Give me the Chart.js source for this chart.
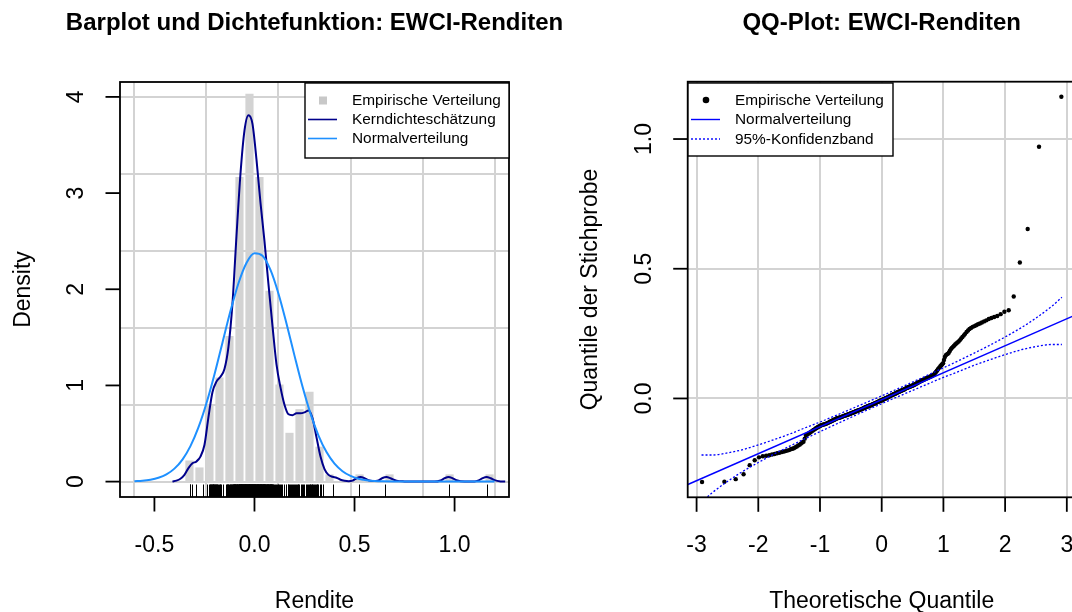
<!DOCTYPE html>
<html><head><meta charset="utf-8">
<script src="https://cdn.jsdelivr.net/npm/chart.js@4.4.1/dist/chart.umd.min.js"></script>
<style>
html,body{margin:0;padding:0;background:#fff;}
#wrap{position:relative;width:1072px;height:612px;overflow:hidden;background:#fff;}
canvas{position:absolute;left:0;top:0;}
</style>
</head><body>
<div id="wrap"><canvas id="c1" width="1072" height="612"></canvas><canvas id="c2" width="1072" height="612"></canvas></div>
<script>
// ---------- data ----------
// sorted EWCI returns (sample), n = 278
const sampleReturns = [
-0.322,-0.321,-0.311,-0.292,-0.257,-0.238,-0.227,-0.223,-0.221,-0.219,
-0.216,-0.214,-0.211,-0.209,-0.207,-0.205,-0.203,-0.201,-0.199,-0.196,
-0.194,-0.192,-0.188,-0.185,-0.181,-0.178,-0.174,-0.170,-0.167,-0.155,
-0.143,-0.139,-0.136,-0.133,-0.130,-0.127,-0.124,-0.121,-0.119,-0.116,
-0.114,-0.111,-0.109,-0.107,-0.105,-0.103,-0.102,-0.101,-0.100,-0.099,
-0.098,-0.097,-0.095,-0.094,-0.092,-0.091,-0.089,-0.088,-0.086,-0.085,
-0.083,-0.082,-0.080,-0.079,-0.077,-0.076,-0.075,-0.075,-0.074,-0.073,
-0.072,-0.071,-0.070,-0.069,-0.068,-0.067,-0.066,-0.065,-0.065,-0.064,
-0.063,-0.062,-0.061,-0.060,-0.059,-0.058,-0.057,-0.056,-0.055,-0.054,
-0.053,-0.052,-0.051,-0.050,-0.049,-0.048,-0.047,-0.046,-0.046,-0.045,
-0.044,-0.043,-0.042,-0.041,-0.040,-0.039,-0.038,-0.037,-0.036,-0.035,
-0.034,-0.033,-0.032,-0.031,-0.030,-0.029,-0.028,-0.027,-0.027,-0.026,
-0.025,-0.024,-0.023,-0.022,-0.021,-0.020,-0.019,-0.018,-0.017,-0.016,
-0.015,-0.014,-0.013,-0.012,-0.011,-0.010,-0.009,-0.008,-0.008,-0.007,
-0.005,-0.004,-0.003,-0.002,-0.001,0.000,0.001,0.002,0.003,0.004,
0.005,0.006,0.008,0.009,0.010,0.011,0.012,0.013,0.014,0.015,
0.016,0.017,0.018,0.019,0.020,0.021,0.023,0.024,0.025,0.026,
0.027,0.028,0.029,0.030,0.031,0.032,0.033,0.034,0.035,0.036,
0.038,0.039,0.040,0.041,0.042,0.043,0.044,0.045,0.046,0.047,
0.048,0.049,0.050,0.051,0.053,0.054,0.055,0.057,0.058,0.059,
0.061,0.062,0.064,0.065,0.066,0.068,0.069,0.070,0.072,0.073,
0.074,0.076,0.077,0.078,0.080,0.081,0.082,0.084,0.085,0.086,
0.088,0.089,0.091,0.095,0.099,0.103,0.107,0.112,0.116,0.120,
0.124,0.128,0.132,0.136,0.148,0.160,0.167,0.170,0.172,0.176,
0.183,0.190,0.195,0.199,0.203,0.208,0.212,0.216,0.220,0.225,
0.231,0.237,0.243,0.249,0.256,0.262,0.268,0.272,0.276,0.279,
0.282,0.286,0.289,0.293,0.297,0.301,0.306,0.310,0.314,0.318,
0.325,0.334,0.340,0.393,0.524,0.653,0.970,1.163
];

// histogram (bin width 0.05), density scale
const binCenters = [-0.325,-0.275,-0.225,-0.175,-0.125,-0.075,-0.025,0.025,0.075,0.125,0.175,0.225,0.275,0.325,0.375,0.525,0.675,0.975,1.175];
const binDensity = [0.216,0.144,0.791,1.079,1.511,3.165,4.029,3.165,1.980,1.007,0.504,0.750,0.930,0.360,0.072,0.072,0.072,0.072,0.072];

// kernel density estimate
const kdeX = [-0.41,-0.39,-0.37,-0.35,-0.33,-0.31,-0.29,-0.27,-0.25,-0.23,-0.21,-0.19,-0.17,-0.15,-0.13,-0.11,-0.09,-0.07,-0.05,-0.03,-0.01,
0.01,0.03,0.05,0.07,0.09,0.11,0.13,0.15,0.17,0.19,0.21,0.23,0.25,0.27,0.29,0.31,0.33,0.35,0.37,0.39,0.41,0.43,0.45,0.47,0.49,0.51,0.53,0.55,0.57,0.59,
0.62,0.64,0.66,0.68,0.71,0.75,0.80,0.90,0.93,0.95,0.97,0.99,1.01,1.05,1.10,1.12,1.14,1.16,1.18,1.20,1.23,1.253];
const kdeY = [0.00,0.01,0.03,0.07,0.14,0.19,0.21,0.26,0.38,0.67,0.93,1.04,1.09,1.17,1.40,1.85,2.55,3.20,3.65,3.81,3.72,
3.35,2.90,2.50,2.05,1.62,1.22,0.98,0.80,0.70,0.69,0.71,0.71,0.72,0.74,0.66,0.46,0.26,0.13,0.07,0.05,0.04,0.02,0.01,0.005,0.01,0.035,0.047,0.035,0.014,0.006,
0.012,0.038,0.047,0.035,0.010,0.002,0.000,0.000,0.012,0.035,0.048,0.035,0.014,0.001,0.002,0.013,0.036,0.048,0.035,0.015,0.002,0.000];

// fitted normal density
const normX = [-0.60,-0.56,-0.52,-0.48,-0.44,-0.40,-0.36,-0.32,-0.28,-0.24,-0.20,-0.16,-0.12,-0.08,-0.04,0.00,0.04,0.08,0.12,0.16,0.20,0.24,0.28,0.32,0.36,0.40,0.44,0.48,0.52,0.56,0.60,0.64,0.70,0.80,1.00,1.20];
const normY = [0.004,0.009,0.020,0.040,0.075,0.135,0.229,0.369,0.563,0.814,1.113,1.444,1.773,2.063,2.274,2.374,2.349,2.201,1.954,1.644,1.310,0.988,0.707,0.479,0.307,0.187,0.108,0.059,0.030,0.015,0.007,0.003,0.001,0.000,0.000,0.000];

// QQ reference line and 95% band
const qqLineX = [-3.2, 3.2];
const qqLineY = [-0.338, 0.328];
const bandX = [-2.92,-2.75,-2.5,-2.25,-2.0,-1.75,-1.5,-1.25,-1.0,-0.5,0,0.5,1.0,1.25,1.5,1.75,2.0,2.25,2.5,2.75,2.92];
const bandUpper = [-0.218,-0.218,-0.210,-0.197,-0.179,-0.159,-0.138,-0.114,-0.091,-0.041,0.010,0.063,0.118,0.146,0.175,0.205,0.237,0.271,0.310,0.354,0.390];
const bandLower = [-0.400,-0.364,-0.320,-0.281,-0.247,-0.215,-0.185,-0.156,-0.128,-0.073,-0.020,0.031,0.081,0.104,0.128,0.149,0.169,0.187,0.200,0.208,0.208];

// ticks and grid
const leftXTicks = [-0.5, 0, 0.5, 1.0];
const leftXTickLabels = ['-0.5','0.0','0.5','1.0'];
const leftYTicks = [0,1,2,3,4];
const leftYTickLabels = ['0','1','2','3','4'];
const leftGridX = [-0.6,-0.24,0.12,0.48,0.84,1.2];
const leftGridY = [0,0.8,1.6,2.4,3.2,4.0];
const rightXTicks = [-3,-2,-1,0,1,2,3];
const rightXTickLabels = ['-3','-2','-1','0','1','2','3'];
const rightYTicks = [0,0.5,1.0];
const rightYTickLabels = ['0.0','0.5','1.0'];
const rightGridX = [-3,-2,-1,0,1,2,3];
const rightGridY = [0,0.5,1.0];

// ---------- helpers ----------
const FONT = '"Liberation Sans", Arial, Helvetica, sans-serif';
function xy(xs, ys){ return xs.map((x,i)=>({x:x, y:ys[i]})); }
function qnorm(p){
  const a=[-3.969683028665376e+01,2.209460984245205e+02,-2.759285104469687e+02,1.383577518672690e+02,-3.066479806614716e+01,2.506628277459239e+00];
  const b=[-5.447609879822406e+01,1.615858368580409e+02,-1.556989798598866e+02,6.680131188771972e+01,-1.328068155288572e+01];
  const c=[-7.784894002430293e-03,-3.223964580411365e-01,-2.400758277161838e+00,-2.549732539343734e+00,4.374664141464968e+00,2.938163982698783e+00];
  const d=[7.784695709041462e-03,3.224671290700398e-01,2.445134137142996e+00,3.754408661907416e+00];
  const pl=0.02425, ph=1-pl; let q,r;
  if(p<pl){q=Math.sqrt(-2*Math.log(p));return (((((c[0]*q+c[1])*q+c[2])*q+c[3])*q+c[4])*q+c[5])/((((d[0]*q+d[1])*q+d[2])*q+d[3])*q+1);}
  if(p>ph){q=Math.sqrt(-2*Math.log(1-p));return -(((((c[0]*q+c[1])*q+c[2])*q+c[3])*q+c[4])*q+c[5])/((((d[0]*q+d[1])*q+d[2])*q+d[3])*q+1);}
  q=p-0.5;r=q*q;return (((((a[0]*r+a[1])*r+a[2])*r+a[3])*r+a[4])*r+a[5])*q/(((((b[0]*r+b[1])*r+b[2])*r+b[3])*r+b[4])*r+1);
}
const nObs = sampleReturns.length;
const qqPoints = sampleReturns.map((v,i)=>({x:qnorm((i+0.5)/nObs), y:v}));

const framePlugin = {
  id:'frame',
  afterDatasetsDraw(chart, args, o){
    if(!o.rug) return;
    const ctx=chart.ctx, a=chart.chartArea, xs=chart.scales.x;
    ctx.save(); ctx.strokeStyle='#000'; ctx.lineWidth=1;
    o.rug.forEach(v=>{
      const px=Math.round(xs.getPixelForValue(v))+0.5;
      ctx.beginPath(); ctx.moveTo(px,a.bottom); ctx.lineTo(px,a.bottom-12.5); ctx.stroke();
    });
    ctx.restore();
  },
  afterDraw(chart, args, o){
    const ctx=chart.ctx, a=chart.chartArea, xs=chart.scales.x, ys=chart.scales.y;
    const L=a.left, T=a.top, B=a.bottom, R=xs.getPixelForValue(o.usrRight);
    const cx=(L+R)/2, cy=(T+B)/2;
    ctx.save();
    ctx.strokeStyle='#000'; ctx.fillStyle='#000'; ctx.lineWidth=1.8;
    ctx.strokeRect(L,T,R-L,B-T);
    ctx.font='23px '+FONT; ctx.textAlign='center'; ctx.textBaseline='alphabetic';
    o.xTicks.forEach((v,i)=>{
      const px=xs.getPixelForValue(v);
      ctx.beginPath(); ctx.moveTo(px,B); ctx.lineTo(px,B+14.5); ctx.stroke();
      ctx.fillText(o.xLabels[i],px,B+55);
    });
    o.yTicks.forEach((v,i)=>{
      const py=ys.getPixelForValue(v);
      ctx.beginPath(); ctx.moveTo(L,py); ctx.lineTo(L-14.5,py); ctx.stroke();
      ctx.save(); ctx.translate(L-37,py); ctx.rotate(-Math.PI/2); ctx.fillText(o.yLabels[i],0,0); ctx.restore();
    });
    ctx.fillText(o.xTitle, cx, B+111);
    ctx.save(); ctx.translate(L-90.5, cy); ctx.rotate(-Math.PI/2); ctx.fillText(o.yTitle,0,0); ctx.restore();
    ctx.font='bold 24px '+FONT; ctx.fillText(o.title, cx, 30);
    // legend
    const lg=o.legend, bx=lg.box;
    ctx.fillStyle='#fff'; ctx.fillRect(bx[0],bx[1],bx[2]-bx[0],bx[3]-bx[1]);
    ctx.lineWidth=1.4; ctx.strokeStyle='#000'; ctx.strokeRect(bx[0],bx[1],bx[2]-bx[0],bx[3]-bx[1]);
    ctx.font='15.4px '+FONT; ctx.textAlign='left'; ctx.textBaseline='middle';
    lg.items.forEach(it=>{
      if(it.kind==='line'){
        ctx.save(); ctx.strokeStyle=it.color; ctx.lineWidth=it.width||1.6; ctx.setLineDash(it.dash||[]);
        ctx.beginPath(); ctx.moveTo(lg.symX[0],it.y); ctx.lineTo(lg.symX[1],it.y); ctx.stroke(); ctx.restore();
      } else if(it.kind==='square'){
        ctx.fillStyle=it.color; ctx.fillRect(lg.symC-4,it.y-4,8,8);
      } else if(it.kind==='dot'){
        ctx.fillStyle=it.color; ctx.beginPath(); ctx.arc(lg.symC,it.y,3.3,0,Math.PI*2); ctx.fill();
      }
      ctx.fillStyle='#000'; ctx.fillText(it.label, lg.textX, it.y+0.5);
    });
    ctx.restore();
  }
};

function hiddenAxis(min,max,grid,isX){
  return {
    type:'linear', min:min, max:max, bounds:'data', offset:false,
    grid:{color:'#d3d3d3', lineWidth:2, drawTicks:false, offset:false},
    border:{display:false}, ticks:{display:false},
    afterBuildTicks:s=>{ s.ticks = grid.map(v=>({value:v})); },
    afterFit:s=>{ if(isX) s.height=0; else s.width=0; }
  };
}

// ---------- left chart ----------
new Chart(document.getElementById('c1'), {
  type:'scatter',
  data:{ datasets:[
    {type:'line', label:'Normalverteilung', data:xy(normX,normY), borderColor:'#1e90ff', borderWidth:2, pointRadius:0, fill:false, cubicInterpolationMode:'monotone', order:1},
    {type:'line', label:'Kerndichteschätzung', data:xy(kdeX,kdeY), borderColor:'#00008b', borderWidth:2, pointRadius:0, fill:false, cubicInterpolationMode:'monotone', order:2},
    {type:'bar', label:'Empirische Verteilung', data:xy(binCenters,binDensity), backgroundColor:'#d3d3d3', borderWidth:0, barThickness:7.5, order:3}
  ]},
  options:{
    responsive:false, animation:false, devicePixelRatio:1,
    layout:{autoPadding:false, padding:{left:120, top:82, right:563, bottom:115}},
    plugins:{
      legend:{display:false}, tooltip:{enabled:false},
      frame:{
        usrRight:1.272, rug:sampleReturns,
        xTicks:leftXTicks, xLabels:leftXTickLabels, yTicks:leftYTicks, yLabels:leftYTickLabels,
        xTitle:'Rendite', yTitle:'Density', title:'Barplot und Dichtefunktion: EWCI-Renditen',
        legend:{box:[305,83,509,158], symX:[308,337], symC:323, textX:352, items:[
          {label:'Empirische Verteilung', y:100.5, kind:'square', color:'#c8c8c8'},
          {label:'Kerndichteschätzung', y:119.5, kind:'line', color:'#00008b'},
          {label:'Normalverteilung', y:138.5, kind:'line', color:'#1e90ff'}
        ]}
      }
    },
    scales:{ x:hiddenAxis(-0.672,1.272,leftGridX,true), y:hiddenAxis(-0.16,4.155,leftGridY,false) }
  },
  plugins:[framePlugin]
});

// ---------- right chart ----------
new Chart(document.getElementById('c2'), {
  type:'scatter',
  data:{ datasets:[
    {type:'line', label:'Normalverteilung', data:xy(qqLineX,qqLineY), borderColor:'#0000ff', borderWidth:1.5, pointRadius:0, fill:false, order:1},
    {type:'line', label:'95%-Konfidenzband', data:xy(bandX,bandUpper), borderColor:'#0000ff', borderWidth:1.3, borderDash:[2,2], pointRadius:0, fill:false, cubicInterpolationMode:'monotone', order:2},
    {type:'line', label:'95%-Konfidenzband unten', data:xy(bandX,bandLower), borderColor:'#0000ff', borderWidth:1.3, borderDash:[2,2], pointRadius:0, fill:false, cubicInterpolationMode:'monotone', order:2},
    {label:'Empirische Verteilung', data:qqPoints, backgroundColor:'#000', borderWidth:0, pointRadius:2.2, order:3}
  ]},
  options:{
    responsive:false, animation:false, devicePixelRatio:1,
    layout:{autoPadding:false, padding:{left:687.7, top:81.7, right:0, bottom:114.7}},
    plugins:{
      legend:{display:false}, tooltip:{enabled:false},
      frame:{
        usrRight:3.144,
        xTicks:rightXTicks, xLabels:rightXTickLabels, yTicks:rightYTicks, yLabels:rightYTickLabels,
        xTitle:'Theoretische Quantile', yTitle:'Quantile der Stichprobe', title:'QQ-Plot: EWCI-Renditen',
        legend:{box:[688,83,893,156], symX:[691,720], symC:706, textX:735, items:[
          {label:'Empirische Verteilung', y:100, kind:'dot', color:'#000'},
          {label:'Normalverteilung', y:119.5, kind:'line', color:'#0000ff', width:1.4},
          {label:'95%-Konfidenzband', y:139, kind:'line', color:'#0000ff', width:1.4, dash:[2,2]}
        ]}
      }
    },
    scales:{ x:hiddenAxis(-3.144,3.084,rightGridX,true), y:hiddenAxis(-0.381,1.221,rightGridY,false) }
  },
  plugins:[framePlugin]
});
</script>
</body></html>
